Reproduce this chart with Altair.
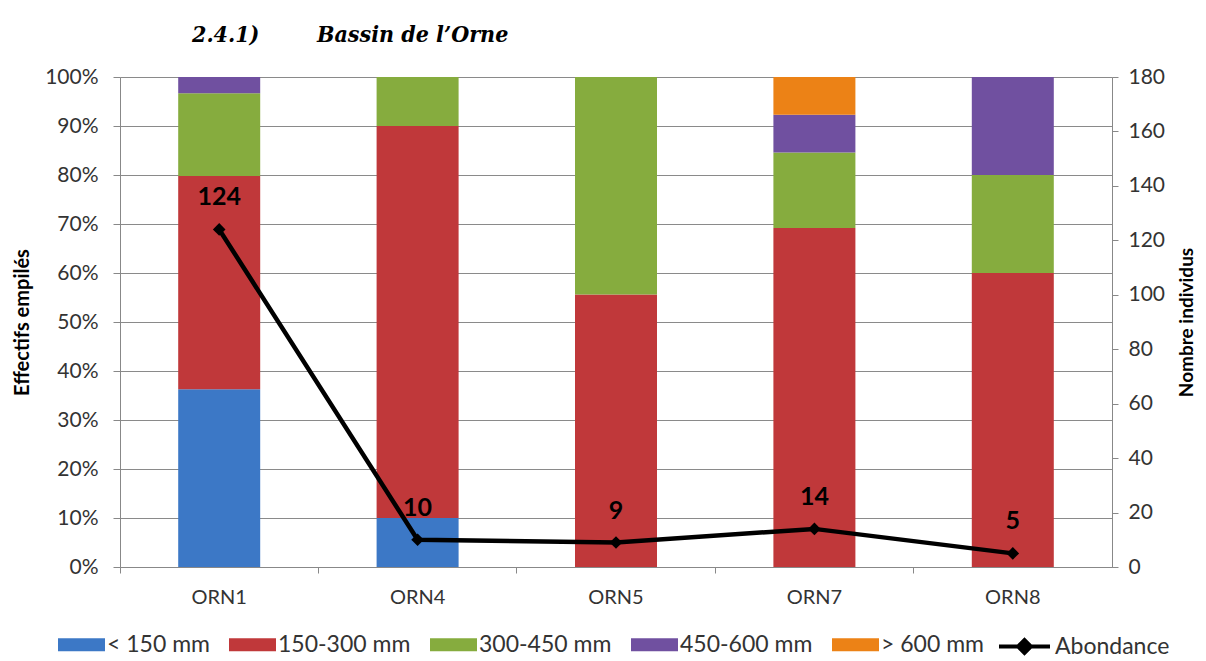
import altair as alt
import pandas as pd

sites = ["ORN1", "ORN4", "ORN5", "ORN7", "ORN8"]
classes = ["< 150 mm", "150-300 mm", "300-450 mm", "450-600 mm", "> 600 mm"]
colors = ["#3C78C6", "#C0383A", "#86AC3E", "#7050A0", "#EC8216"]

# stacked percentages per site, one list per size class
pct_lt150 = [36.3, 10.0, 0.0, 0.0, 0.0]
pct_150_300 = [43.5, 80.0, 55.6, 69.2, 60.0]
pct_300_450 = [16.9, 10.0, 44.4, 15.4, 20.0]
pct_450_600 = [3.3, 0.0, 0.0, 7.7, 20.0]
pct_gt600 = [0.0, 0.0, 0.0, 7.7, 0.0]

abondance = [124, 10, 9, 14, 5]

pct_table = [pct_lt150, pct_150_300, pct_300_450, pct_450_600, pct_gt600]
rows = []
for ci, (cls, vals) in enumerate(zip(classes, pct_table)):
    for s, v in zip(sites, vals):
        rows.append({"site": s, "classe": cls, "idx": ci, "pct": v})
bars_df = pd.DataFrame(rows)

line_df = pd.DataFrame({"site": sites, "n": abondance, "serie": ["Abondance"] * len(sites)})

FONT = "Lato"
LBL = 21
LEG = 23

x_enc = alt.X(
    "site:N",
    sort=sites,
    scale=alt.Scale(paddingInner=0, paddingOuter=0),
    axis=alt.Axis(
        title=None,
        labelFontSize=20,
        labelFont=FONT,
        labelColor="#333333",
        labelPadding=14,
        labelAngle=0,
        tickSize=6,
        tickColor="#888888",
        domainColor="#888888",
        bandPosition=0,
        grid=False,
    ),
)

bars = alt.Chart(bars_df).mark_bar(size=82).encode(
    x=x_enc,
    y=alt.Y(
        "pct:Q",
        stack="zero",
        scale=alt.Scale(domain=[0, 100], nice=False),
        axis=alt.Axis(
            title="Effectifs empilés",
            titleFont=FONT,
            titleFontSize=20,
            titleFontWeight="bold",
            titleColor="#000000",
            titlePadding=12,
            values=list(range(0, 101, 10)),
            labelExpr="datum.value + '%'",
            labelFont=FONT,
            labelFontSize=LBL,
            labelColor="#333333",
            labelPadding=15,
            tickSize=7,
            tickColor="#888888",
            domainColor="#888888",
            gridColor="#8a8a8a",
            gridWidth=1,
        ),
    ),
    color=alt.Color(
        "classe:N",
        scale=alt.Scale(domain=classes, range=colors),
        legend=alt.Legend(
            title=None,
            orient="none",
            legendX=-62,
            legendY=544,
            direction="horizontal",
            symbolType="M-1,-0.28L1,-0.28L1,0.28L-1,0.28Z",
            symbolSize=2209,
            symbolStrokeWidth=0,
            labelFont=FONT,
            labelFontSize=LEG,
            labelColor="#333333",
            labelOffset=2,
            columnPadding=19,
        ),
    ),
    order=alt.Order("idx:Q", sort="ascending"),
)

y_right = alt.Y(
    "n:Q",
    scale=alt.Scale(domain=[0, 180], nice=False),
    axis=alt.Axis(
        orient="right",
        title="Nombre individus",
        titleFont=FONT,
        titleFontSize=19,
        titleFontWeight="bold",
        titleColor="#000000",
        titlePadding=32,
        titleAngle=270,
        values=list(range(0, 181, 20)),
        labelFont=FONT,
        labelFontSize=LBL,
        labelColor="#333333",
        labelPadding=10,
        tickSize=6,
        tickColor="#888888",
        domainColor="#888888",
        grid=False,
    ),
)

line = alt.Chart(line_df).mark_line(strokeWidth=4.5).encode(
    x=alt.X("site:N", sort=sites),
    y=y_right,
    stroke=alt.Stroke(
        "serie:N",
        scale=alt.Scale(domain=["Abondance"], range=["#000000"]),
        legend=alt.Legend(
            title=None,
            orient="none",
            legendX=877,
            legendY=542,
            symbolType="M-1,0L1,0M-0.25,0L0,-0.25L0.25,0L0,0.25Z",
            symbolSize=2601,
            symbolStrokeWidth=4,
            symbolFillColor="#000000",
            labelFont=FONT,
            labelFontSize=LEG,
            labelColor="#333333",
            labelOffset=3,
        ),
    ),
)

points = alt.Chart(line_df).mark_point(
    shape="diamond", filled=True, size=160, color="#000000", opacity=1
).encode(
    x=alt.X("site:N", sort=sites),
    y=y_right,
)

labels = alt.Chart(line_df).mark_text(
    dy=-32, fontSize=25, fontWeight="bold", font=FONT, color="#000000"
).encode(
    x=alt.X("site:N", sort=sites),
    y=y_right,
    text=alt.Text("n:Q"),
)

right = alt.layer(line, points, labels)

chart = (
    alt.layer(bars, right)
    .resolve_scale(y="independent", color="independent")
    .properties(
        width=992,
        height=490,
        autosize=alt.AutoSizeParams(type="none"),
        padding={"left": 112, "top": 69, "right": 86, "bottom": 90},
        title=alt.TitleParams(
            "2.4.1)\u00a0\u00a0\u00a0\u00a0\u00a0\u00a0\u00a0\u00a0Bassin de l\u2019Orne",
            anchor="start",
            frame="group",
            dx=72,
            offset=19,
            font="DejaVu Serif Condensed",
            fontSize=23,
            fontStyle="italic",
            fontWeight="bold",
            color="#000000",
        ),
    )
    .configure_view(stroke=None)
    .configure(background="white")
)

chart.save("out.html", embed_options={"renderer": "svg", "actions": False})
